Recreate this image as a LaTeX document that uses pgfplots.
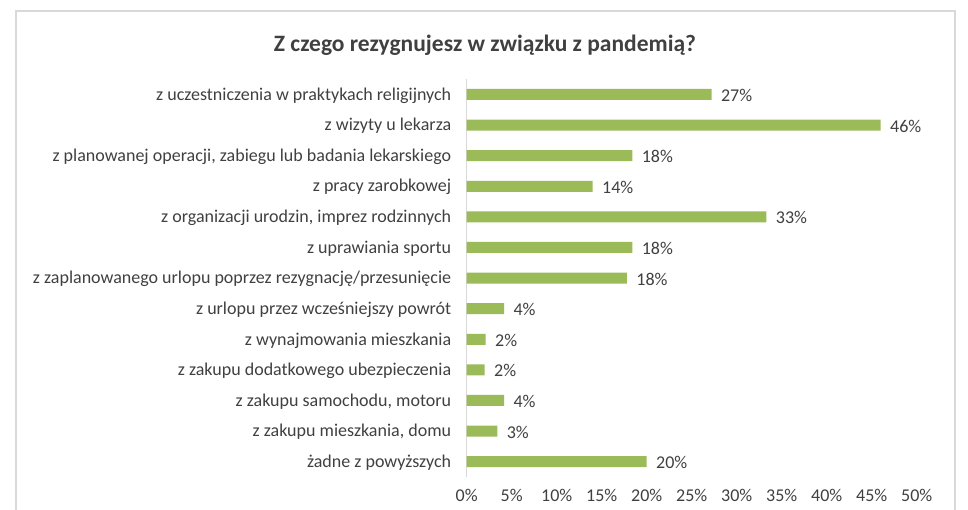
\documentclass[border=0pt]{standalone}
\usepackage{pgfplots}
\pgfplotsset{compat=1.18}
\usepackage{fontspec}
\setmainfont{Carlito}
\definecolor{bargreen}{HTML}{9BBB59}
\definecolor{txt}{HTML}{404040}
\definecolor{framec}{HTML}{D9D9D9}
\begin{document}
\begin{tikzpicture}
\useasboundingbox (0pt,0pt) rectangle (968pt,510pt);
\draw[framec, line width=2pt] (16pt,-5pt) -- (16pt,499pt) -- (955pt,499pt) -- (955pt,-5pt);
\node[font=\bfseries\fontsize{23.5}{23.5}\selectfont, text=txt] at (485pt,465pt) {Z czego rezygnujesz w związku z pandemią?};
\begin{axis}[
  at={(466.7pt,33pt)}, anchor=south west,
  scale only axis, width=450pt, height=397.8pt,
  xbar, bar width=11pt,
  xmin=0, xmax=50, ymin=-0.5, ymax=12.5,
  axis x line*=bottom, axis y line*=left,
  x axis line style={draw=none},
  y axis line style={draw=framec, line width=1pt},
  major tick length=0pt, tick style={draw=none},
  xtick={0,5,...,50},
  xticklabel={\pgfmathprintnumber{\tick}\%},
  /pgf/number format/assume math mode=true,
  ytick={0,...,12},
  yticklabels={
    żadne z powyższych,
    {z zakupu mieszkania, domu},
    {z zakupu samochodu, motoru},
    z zakupu dodatkowego ubezpieczenia,
    z wynajmowania mieszkania,
    z urlopu przez wcześniejszy powrót,
    z zaplanowanego urlopu poprzez rezygnację/przesunięcie,
    z uprawiania sportu,
    {z organizacji urodzin, imprez rodzinnych},
    z pracy zarobkowej,
    {z planowanej operacji, zabiegu lub badania lekarskiego},
    z wizyty u lekarza,
    z uczestniczenia w praktykach religijnych},
  yticklabel style={font=\fontsize{18}{18}\selectfont, text=txt, xshift=-12pt, yshift=-1pt},
  xticklabel style={font=\fontsize{18}{18}\selectfont, text=txt, yshift=-9pt},
  point meta=x,
  nodes near coords={\pgfmathprintnumber[fixed,precision=0]{\pgfplotspointmeta}\%},
  nodes near coords style={font=\fontsize{18}{18}\selectfont, text=txt, anchor=west, xshift=6pt, yshift=-1pt},
  clip=false,
]
\addplot[fill=bargreen, draw=none] coordinates {
  (27.2,12) (46.0,11) (18.4,10) (14.0,9) (33.3,8) (18.4,7) (17.8,6)
  (4.15,5) (2.1,4) (2.0,3) (4.15,2) (3.4,1) (20.0,0)};
\end{axis}
\end{tikzpicture}
\end{document}
